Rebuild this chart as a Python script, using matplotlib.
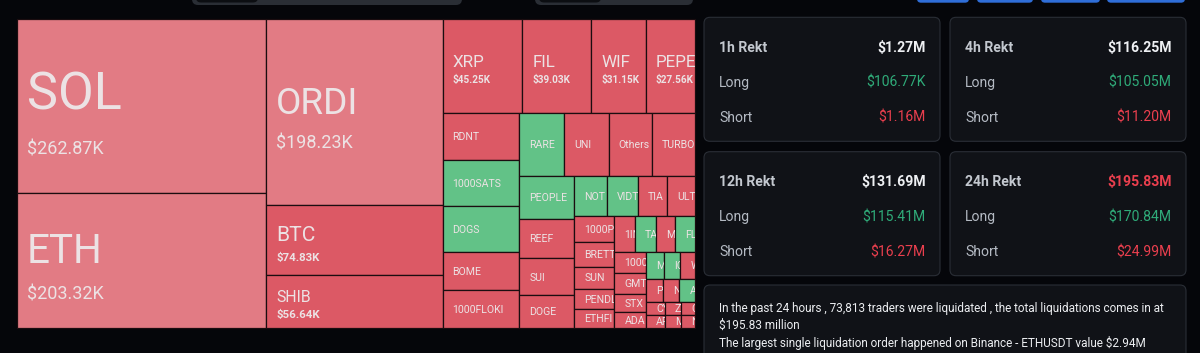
import matplotlib.pyplot as plt
from matplotlib.patches import Rectangle, FancyBboxPatch

# 1h liquidations per coin, in thousands of USD ('S' = shorts, 'L' = longs)
coins = ['SOL', 'ETH', 'ORDI', 'BTC', 'SHIB', 'XRP', 'FIL', 'WIF', 'PEPE',
         'RDNT', '1000SATS', 'DOGS', 'BOME', '1000FLOKI', 'RARE', 'UNI', 'Others', 'TURBO',
         'PEOPLE', 'REEF', 'SUI', 'DOGE', 'NOT', 'VIDT', 'TIA', 'ULTI',
         '1000PEPE', 'BRETT', 'SUN', 'PENDLE', 'ETHFI', '1INCH', 'TAO', 'MANTA', 'FLOW',
         '1000BONK', 'GMT', 'STX', 'ADA', 'MEW', 'IO', 'WLD', 'POPCAT', 'NEIRO', 'AAVE',
         'CYBER', 'ARB', 'ZRO', 'MEME', 'CRV', 'NEAR']
values_k = [262.87, 203.32, 198.23, 74.83, 56.64, 45.25, 39.03, 31.15, 27.56,
            22.0, 21.3, 21.1, 18.0, 17.4, 17.2, 17.1, 16.5, 16.3,
            14.2, 13.3, 12.2, 10.9, 8.0, 7.3, 7.15, 6.6,
            6.5, 5.9, 5.4, 4.9, 4.6, 4.55, 4.5, 4.25, 4.15,
            4.1, 4.05, 3.55, 3.0, 2.95, 2.7, 2.35, 2.3, 2.28, 2.07,
            1.55, 1.4, 1.35, 1.2, 1.1, 1.0]
sides = ['S', 'S', 'S', 'S', 'S', 'S', 'S', 'S', 'S',
         'S', 'L', 'L', 'S', 'S', 'L', 'S', 'S', 'S',
         'L', 'S', 'S', 'S', 'L', 'L', 'S', 'S',
         'S', 'S', 'S', 'S', 'S', 'S', 'L', 'S', 'L',
         'S', 'S', 'S', 'S', 'L', 'L', 'S', 'S', 'S', 'L',
         'S', 'S', 'S', 'S', 'S', 'S']

periods = ['1h', '4h', '12h', '24h']
rekt_total = ['$1.27M', '$116.25M', '$131.69M', '$195.83M']
rekt_long = ['$106.77K', '$105.05M', '$115.41M', '$170.84M']
rekt_short = ['$1.16M', '$11.20M', '$16.27M', '$24.99M']

summary = ['In the past 24 hours , 73,813 traders were liquidated , the total liquidations comes in at',
           '$195.83 million',
           'The largest single liquidation order happened on Binance - ETHUSDT value $2.94M']

BG = '#05060a'
PANEL = '#101217'
EDGE = '#2a2e36'
RED_LIGHT = '#e27b84'
RED = '#dc5965'
GREEN = '#62c287'
TXT_GREEN = '#2fab79'
TXT_RED = '#ea3f4e'
FONT = 'Roboto'
PT = 0.72  # px -> pt at dpi 100


def worst(areas, row_area, fixed, ratio):
    sq = row_area * row_area
    f = fixed * fixed * ratio
    return max(f * max(areas) / sq, sq / (f * min(areas)))


def position(row, areas, row_area, fixed, rect, flush, out):
    x, y, w, h = rect
    horiz = fixed == w
    other = row_area / fixed if fixed else 0
    lim = h if horiz else w
    if flush or other > lim:
        other = lim
    last = x if horiz else y
    end = x + w if horiz else y + h
    for j, idx in enumerate(row):
        step = areas[idx] / other if other else 0
        remain = end - last
        mod = remain if (j == len(row) - 1 or remain < step) else step
        out[idx] = (last, y, mod, other) if horiz else (x, last, other, mod)
        last += mod
    if horiz:
        rect[1] += other
        rect[3] -= other
    else:
        rect[0] += other
        rect[2] -= other


def squarify(vals, x, y, w, h, ratio=(1 + 5 ** 0.5) / 2):
    # same squarified layout as echarts treemap (golden square ratio)
    total = sum(vals)
    areas = [v / total * w * h for v in vals]
    out = [None] * len(vals)
    rect = [x, y, w, h]
    row, row_area, score = [], 0.0, float('inf')
    fixed = min(w, h)
    i = 0
    while i < len(areas):
        row.append(i)
        row_area += areas[i]
        s2 = worst([areas[k] for k in row], row_area, fixed, ratio)
        if s2 <= score:
            i += 1
            score = s2
        else:
            row.pop()
            row_area -= areas[i]
            position(row, areas, row_area, fixed, rect, False, out)
            fixed = min(rect[2], rect[3])
            row, row_area, score = [], 0.0, float('inf')
    if row:
        position(row, areas, row_area, fixed, rect, True, out)
    return out


fig = plt.figure(figsize=(12, 3.53), dpi=100, facecolor=BG)
ax = fig.add_axes([0, 0, 1, 1])
ax.set_xlim(0, 1200)
ax.set_ylim(353, 0)
ax.axis('off')
ax.set_facecolor(BG)

# top ui bits (cut off by the screenshot)
for bx, bw in [(192, 270), (535, 158)]:
    ax.add_patch(FancyBboxPatch((bx, -12), bw, 17, boxstyle='round,pad=0,rounding_size=6',
                                fc='#2a2e35', ec='none'))
    ax.add_patch(FancyBboxPatch((bx + 4, -12), 62, 14.5, boxstyle='round,pad=0,rounding_size=5',
                                fc='#0c0e12', ec='none'))
for bx, bw in [(917, 52), (977, 56), (1041, 59), (1107, 78)]:
    ax.add_patch(FancyBboxPatch((bx, -12), bw, 14.7, boxstyle='round,pad=0,rounding_size=4',
                                fc='#2f6ed8', ec='none'))

# treemap
cells = squarify(values_k, 17, 19.3, 677.5, 308.4)
for name, v, side, (cx, cy, cw, ch) in zip(coins, values_k, sides, cells):
    if side == 'L':
        col = GREEN
    elif v >= 100:
        col = RED_LIGHT
    else:
        col = RED
    patch = Rectangle((cx, cy), cw, ch, fc=col, ec='#1b0d10', lw=0.9)
    ax.add_patch(patch)
    mid = cy + ch / 2
    if v >= 25:
        if v >= 150:
            npx, vpx, vw = min(0.30 * ch, 0.21 * cw), 18, 'normal'
        elif v >= 50:
            npx, vpx, vw = 0.30 * ch, 11.5, 'bold'
        else:
            npx, vpx, vw = 17, 10, 'bold'
        t1 = ax.text(cx + 10, mid + 0.06 * npx, name, fontsize=npx * PT, color='#ece2e4',
                     family=FONT, va='baseline', ha='left', clip_on=True)
        t2 = ax.text(cx + 10, mid + 0.8 * npx + 0.36 * vpx, f'${v:.2f}K', fontsize=vpx * PT,
                     color='#ece2e4', family=FONT, weight=vw, va='baseline', ha='left',
                     clip_on=True)
        texts = [t1, t2]
    else:
        npx = 10.5
        texts = [ax.text(cx + 10, mid + 0.36 * npx, name, fontsize=npx * PT, color='#ece2e4',
                         family=FONT, va='baseline', ha='left', clip_on=True)]
    for t in texts:
        t.set_clip_path(patch)

# stat panels
for k, per in enumerate(periods):
    px = 704 + (k % 2) * 246
    py = 17.3 + (k // 2) * 134.4
    ax.add_patch(FancyBboxPatch((px, py), 236, 124, boxstyle='round,pad=0,rounding_size=6',
                                fc=PANEL, ec=EDGE, lw=0.8))
    tot_col = TXT_RED if per == '24h' else '#eef0f3'
    ax.text(px + 15, py + 34.2, f'{per} Rekt', fontsize=14 * PT, color='#c3c8cf',
            family=FONT, weight='bold', va='baseline')
    ax.text(px + 221.5, py + 34.2, rekt_total[k], fontsize=14 * PT, color=tot_col,
            family=FONT, weight='bold', va='baseline', ha='right')
    ax.text(px + 15, py + 69.5, 'Long', fontsize=14 * PT, color='#b4bac3',
            family=FONT, va='baseline')
    ax.text(px + 221.5, py + 69.5, rekt_long[k], fontsize=14 * PT, color=TXT_GREEN,
            family=FONT, va='baseline', ha='right')
    ax.text(px + 15, py + 104.5, 'Short', fontsize=14 * PT, color='#b4bac3',
            family=FONT, va='baseline')
    ax.text(px + 221.5, py + 104.5, rekt_short[k], fontsize=14 * PT, color=TXT_RED,
            family=FONT, va='baseline', ha='right')

ax.add_patch(FancyBboxPatch((704, 285), 482, 90, boxstyle='round,pad=0,rounding_size=6',
                            fc=PANEL, ec=EDGE, lw=0.8))
for j, line in enumerate(summary):
    ax.text(719, 311.7 + j * 17.5, line, fontsize=11.7 * PT, color='#eceef1',
            family=FONT, va='baseline')

fig.savefig('out.png', dpi=100, facecolor=BG)
